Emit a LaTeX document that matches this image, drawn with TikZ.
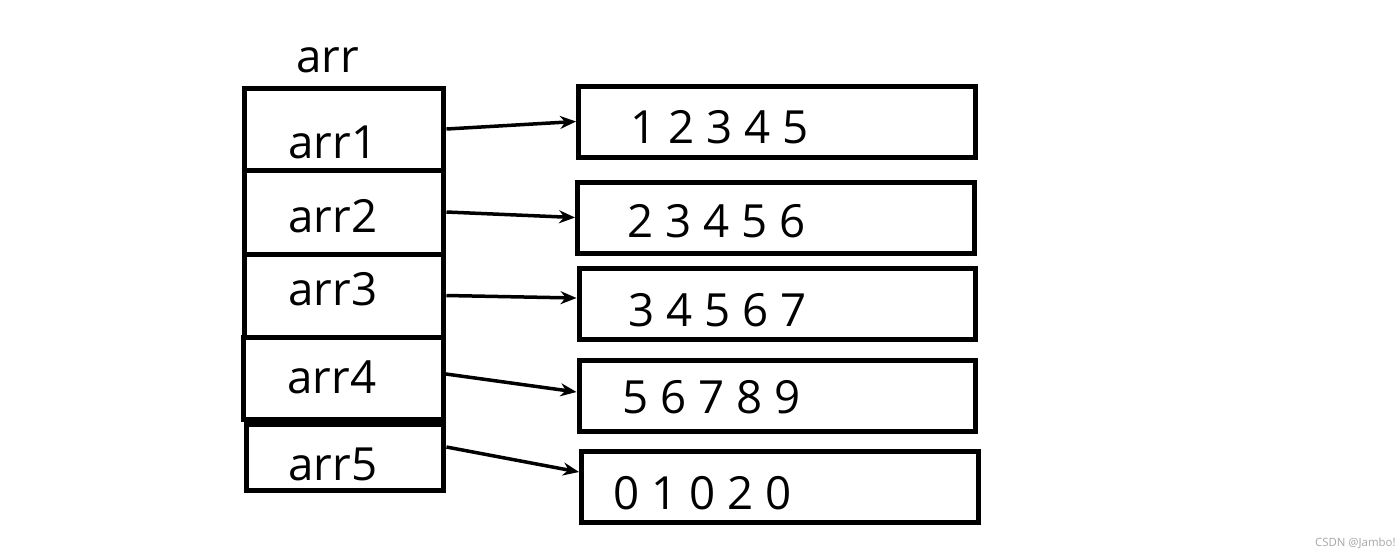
\documentclass[tikz,border=0pt]{standalone}
\usepackage{fontspec}
\setmainfont{Open Sans}
\usetikzlibrary{arrows.meta,positioning}

\begin{document}
\begin{tikzpicture}[x=0.02cm, y=-0.02cm,
  cell/.style={rectangle, draw, line width=0.1cm, minimum width=4cm, minimum height=#1, inner sep=0pt},
  vbox/.style={rectangle, draw, line width=0.1cm, minimum width=7.94cm, minimum height=1.42cm, inner sep=0pt},
  lbl/.style={anchor=base west, inner sep=0pt, font=\fontsize{26}{30}\selectfont},
  arr/.style={-{Stealth[length=0.32cm, width=0.26cm]}, line width=0.07cm}
]
  \useasboundingbox (0,0) rectangle (1400,556);
  % pointer array
  \node[lbl] (title) at (296,72) {arr};
  \foreach \i/\x/\y/\h in {1/344/129/1.64cm, 2/344/212/1.68cm, 3/344/295.5/1.66cm, 4/343.5/378/1.64cm}{\node[cell=\h] (c\i) at (\x,\y) {};}
  \node[cell=1.32cm, minimum width=3.96cm] (c5) at (345,457) {};
  \foreach \i/\x/\y in {1/288/158, 2/288/232, 3/288/305, 4/287/393, 5/288/480}{\node[lbl] (l\i) at (\x,\y) {arr\i};}
  % rows
  \foreach \i/\x/\y in {1/777/121.5, 2/776/217.5, 3/777.5/303.5, 4/777.5/396, 5/780/487}{\node[vbox] (v\i) at (\x,\y) {};}
  \foreach \i/\x/\y/\L in {1/630/143/1 2 3 4 5, 2/627/237/2 3 4 5 6, 3/628/326/3 4 5 6 7, 4/622/413/5 6 7 8 9, 5/613/509/0 1 0 2 0}{\node[lbl] (n\i) at (\x,\y) {\L};}
  \foreach \i/\a/\b in {1/0/0, 2/0/0, 3/0/0.11, 4/0.08/0.08, 5/0.2/0.3}{\draw[arr] ([yshift=\a cm]c\i.east) -- ([yshift=\b cm]v\i.west);}
  % watermark
  \node[anchor=east, inner sep=0pt, text=gray!70, font=\fontsize{6.5}{8}\selectfont] (mark) at (1396,543) {CSDN @Jambo!};
\end{tikzpicture}
\end{document}
